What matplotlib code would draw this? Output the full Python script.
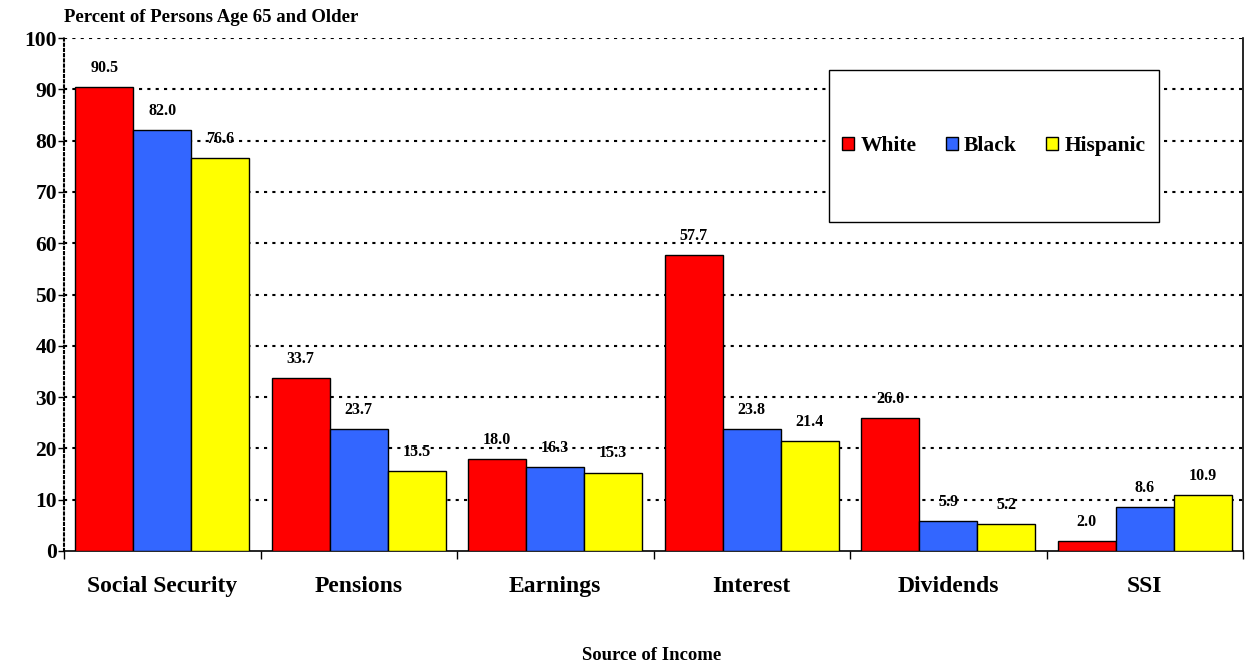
import matplotlib
matplotlib.use("Agg")
import matplotlib.pyplot as plt
import numpy as np
from matplotlib.patches import Rectangle

categories = ["Social Security", "Pensions", "Earnings", "Interest", "Dividends", "SSI"]
white = [90.5, 33.7, 18.0, 57.7, 26.0, 2.0]
black = [82.0, 23.7, 16.3, 23.8, 5.9, 8.6]
hispanic = [76.6, 15.5, 15.3, 21.4, 5.2, 10.9]
series_names = ["White", "Black", "Hispanic"]
colors = ["#FF0000", "#3366FF", "#FFFF00"]
yticks = [0, 10, 20, 30, 40, 50, 60, 70, 80, 90, 100]

plt.rcParams['font.family'] = ['Liberation Serif', 'DejaVu Serif']
plt.rcParams['font.weight'] = 'bold'

fig = plt.figure(figsize=(12.46, 6.69), dpi=100)
ax = fig.add_axes([64/1246, 1-551/669, (1243-64)/1246, (551-38)/669])

x = np.arange(len(categories))
w = 0.295
for i, (vals, name, c) in enumerate(zip([white, black, hispanic], series_names, colors)):
    ax.bar(x + (i-1)*w, vals, w, color=c, edgecolor='black', linewidth=1.0,
           label=name, zorder=3)
    for xi, v in zip(x + (i-1)*w, vals):
        ax.annotate(f"{v:.1f}", (xi, v), xytext=(0, 8), textcoords='offset points',
                    ha='center', va='bottom', fontsize=11.5, fontweight='bold', zorder=5)

ax.set_xlim(-0.5, len(categories)-0.5)
ax.set_ylim(0, 100)
ax.set_yticks(yticks)
ax.set_yticklabels([str(t) for t in yticks], fontsize=15.5, fontweight='bold')
ax.set_xticks(x)
ax.set_xticklabels(categories, fontsize=17, fontweight='bold')
ax.set_xticks(np.arange(-0.5, len(categories)), minor=True)
ax.tick_params(axis='x', which='major', length=0, pad=18)
ax.tick_params(axis='x', which='minor', length=6, width=1, direction='out')
ax.tick_params(axis='y', length=4, width=1, direction='out', pad=1)

for t in yticks[1:]:
    ax.axhline(t, color='black', linestyle=(0, (1.5, 2.5)), linewidth=1.5, zorder=1)

ax.spines['top'].set_visible(False)
ax.spines['left'].set_linestyle((0, (1.0, 1.5)))
ax.spines['left'].set_linewidth(1.5)
ax.spines['bottom'].set_linewidth(1.2)
ax.spines['right'].set_linewidth(1.2)

# legend box
bx0, by0 = (829-64)/1179, (551-222)/513
bw, bh = (1159-829)/1179, (222-70)/513
ax.add_patch(Rectangle((bx0, by0), bw, bh, transform=ax.transAxes, facecolor='white',
                       edgecolor='black', linewidth=1.0, zorder=4))
leg = ax.legend(loc='center', bbox_to_anchor=(bx0, by0, bw, bh), ncol=3, frameon=False,
                prop={'size': 15.5, 'weight': 'bold'}, handlelength=0.55, handleheight=0.55,
                handletextpad=0.3, columnspacing=1.35)
leg.set_zorder(6)

fig.text(64/1246, 1-17/669, "Percent of Persons Age 65 and Older", fontsize=13.5,
         fontweight='bold', ha='left', va='center')
fig.text(652/1246, 1-655/669, "Source of Income", fontsize=13.5, fontweight='bold',
         ha='center', va='center')

fig.savefig("out.png", dpi=100)
